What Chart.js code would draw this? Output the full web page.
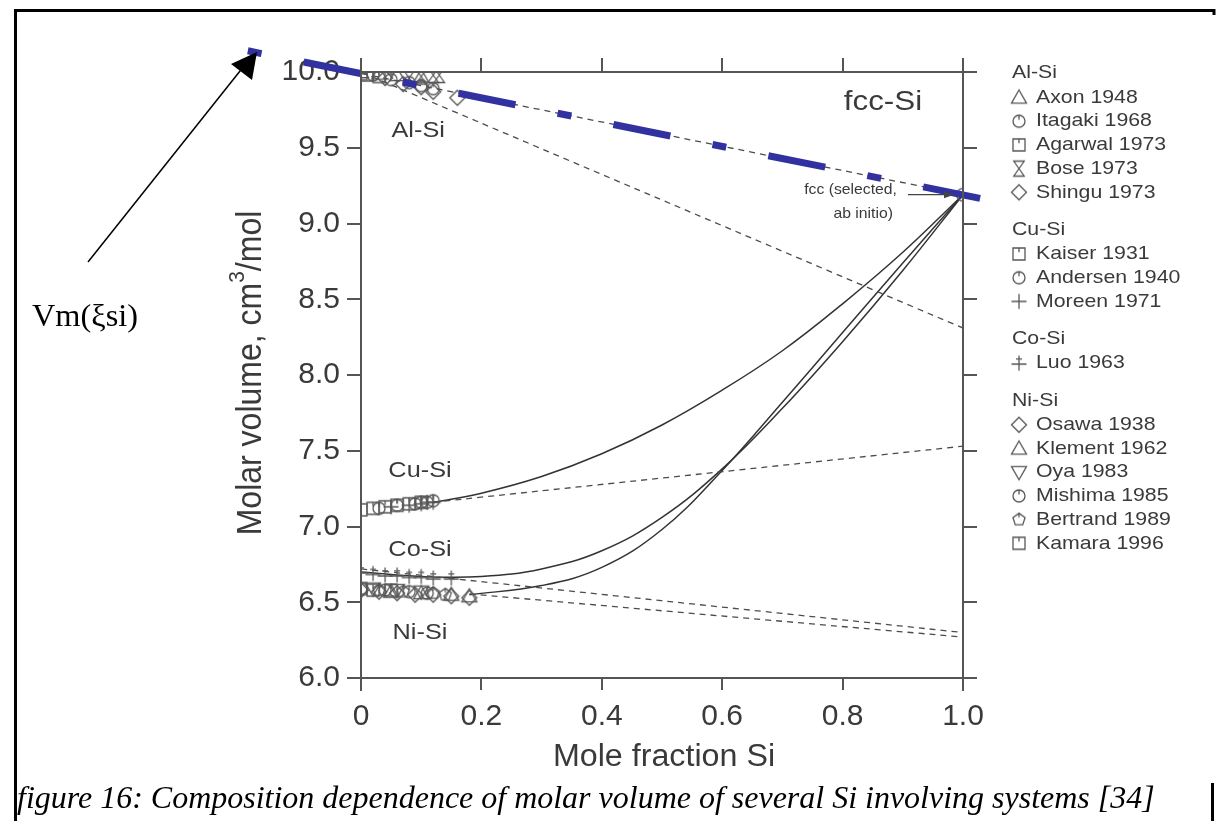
<!DOCTYPE html>
<html>
<head>
<meta charset="utf-8">
<script src="https://cdn.jsdelivr.net/npm/chart.js@4.4.1/dist/chart.umd.min.js"></script>
<style>
body{margin:0;background:#fff;}
canvas{display:block;}
</style>
</head>
<body>
<canvas id="myChart" width="1232" height="821"></canvas>
<script>
const sans = "'Liberation Sans', Arial, Helvetica, sans-serif";
const serif = "'Liberation Serif', 'Times New Roman', serif";
const ink = "#3a3a3a";
const axisInk = "#555555";
const markInk = "#575757";
const blue = "#31319f";

// tick values
const xTickValues = [0, 0.2, 0.4, 0.6, 0.8, 1.0];
const yTickValues = [6.0, 6.5, 7.0, 7.5, 8.0, 8.5, 9.0, 9.5, 10.0];

// Al-Si measurements
const axonX = [0.0, 0.03, 0.06, 0.1];
const axonY = [10.0, 9.99, 9.98, 9.97];
const itagakiX = [0.02, 0.05, 0.08, 0.1, 0.12];
const itagakiY = [9.98, 9.95, 9.93, 9.91, 9.89];
const agarwalX = [0.0, 0.01, 0.03];
const agarwalY = [9.99, 9.98, 9.97];
const boseX = [0.08, 0.1, 0.12, 0.13];
const boseY = [9.96, 9.97, 9.98, 9.98];
const shinguX = [0.04, 0.07, 0.1, 0.12, 0.16];
const shinguY = [9.96, 9.92, 9.9, 9.87, 9.83];

// Cu-Si measurements
const kaiserX = [0.0, 0.02, 0.04, 0.06, 0.08, 0.1];
const kaiserY = [7.11, 7.12, 7.13, 7.14, 7.15, 7.16];
const andersenX = [0.03, 0.06, 0.09, 0.1, 0.11, 0.12];
const andersenY = [7.12, 7.14, 7.15, 7.16, 7.16, 7.17];
const moreenX = [0.05, 0.08, 0.1, 0.11, 0.12];
const moreenY = [7.13, 7.14, 7.15, 7.16, 7.16];

// Co-Si measurements
const luoX = [0.0, 0.02, 0.04, 0.06, 0.08, 0.1, 0.12, 0.15];
const luoY = [6.70, 6.69, 6.68, 6.68, 6.67, 6.67, 6.66, 6.66];

// Ni-Si measurements
const osawaX = [0.0, 0.03, 0.06, 0.09, 0.12, 0.15, 0.18];
const osawaY = [6.58, 6.57, 6.56, 6.55, 6.55, 6.54, 6.53];
const klementX = [0.05, 0.1, 0.15, 0.18];
const klementY = [6.57, 6.56, 6.55, 6.54];
const oyaX = [0.02, 0.06, 0.1];
const oyaY = [6.59, 6.58, 6.57];
const mishimaX = [0.0, 0.04, 0.08, 0.11];
const mishimaY = [6.59, 6.58, 6.57, 6.56];
const bertrandX = [0.03, 0.07, 0.12, 0.14];
const bertrandY = [6.58, 6.57, 6.56, 6.55];
const kamaraX = [0.0, 0.02, 0.05];
const kamaraY = [6.59, 6.58, 6.58];

// fcc Si (selected, ab initio)
const fccX = [1.0];
const fccY = [9.19];

// model lines
const alIdealX = [0, 1.0];
const alIdealY = [9.99, 9.19];
const alSteepX = [0, 1.0];
const alSteepY = [10.0, 8.31];
const cuDashX = [0.12, 1.0];
const cuDashY = [7.16, 7.53];
const cuCurveX = [0.12, 0.2, 0.3, 0.4, 0.5, 0.6, 0.7, 0.8, 0.9, 1.0];
const cuCurveY = [7.16, 7.22, 7.33, 7.48, 7.67, 7.90, 8.16, 8.47, 8.81, 9.19];
const coDashX = [0, 1.0];
const coDashY = [6.72, 6.30];
const coCurveX = [0, 0.1, 0.2, 0.3, 0.4, 0.5, 0.6, 0.7, 0.8, 0.9, 1.0];
const coCurveY = [6.70, 6.67, 6.67, 6.72, 6.84, 7.06, 7.38, 7.78, 8.22, 8.69, 9.19];
const niDashX = [0.18, 1.0];
const niDashY = [6.555, 6.27];
const niCurveX = [0.18, 0.3, 0.4, 0.5, 0.6, 0.7, 0.8, 0.9, 1.0];
const niCurveY = [6.55, 6.61, 6.73, 6.98, 7.37, 7.82, 8.28, 8.74, 9.19];

// overlaid Vm(xSi) line
const vegardX = [-0.188, 1.098];
const vegardY = [10.14, 9.11];

function pts(xs, ys)
{
    return xs.map(function (v, i) { return {x: v, y: ys[i]}; });
}

function makeMarker(kind)
{
    let s = 15;
    let c = document.createElement("canvas");
    c.width = s + 5;
    c.height = s + 5;
    let g = c.getContext("2d");
    let m = c.width / 2, r = s / 2;
    g.strokeStyle = markInk;
    g.lineWidth = 1.3;
    g.beginPath();
    switch (kind)
    {
        case "tri":
            g.moveTo(m, m - r); g.lineTo(m + r, m + r * 0.75); g.lineTo(m - r, m + r * 0.75); g.closePath();
            break;
        case "triDown":
            g.moveTo(m, m + r); g.lineTo(m + r, m - r * 0.75); g.lineTo(m - r, m - r * 0.75); g.closePath();
            break;
        case "circTick":
            g.arc(m, m, r * 0.8, 0, Math.PI * 2);
            g.moveTo(m, m - r * 0.8); g.lineTo(m, m - r * 0.2);
            break;
        case "circle":
            g.arc(m, m, r * 0.85, 0, Math.PI * 2);
            break;
        case "sqTick":
            g.rect(m - r * 0.8, m - r * 0.8, r * 1.6, r * 1.6);
            g.moveTo(m, m - r * 0.8); g.lineTo(m, m - r * 0.25);
            break;
        case "hourglass":
            g.moveTo(m - r * 0.7, m - r); g.lineTo(m + r * 0.7, m - r);
            g.lineTo(m - r * 0.7, m + r); g.lineTo(m + r * 0.7, m + r); g.closePath();
            break;
        case "diamond":
            g.moveTo(m, m - r); g.lineTo(m + r, m); g.lineTo(m, m + r); g.lineTo(m - r, m); g.closePath();
            break;
        case "plus":
            g.moveTo(m - r, m); g.lineTo(m + r, m);
            g.moveTo(m, m - r); g.lineTo(m, m + r);
            break;
        case "plusBar":
            g.moveTo(m - r, m + 1); g.lineTo(m + r, m + 1);
            g.moveTo(m, m - r); g.lineTo(m, m + r);
            g.moveTo(m - r * 0.4, m - r * 0.55); g.lineTo(m + r * 0.4, m - r * 0.55);
            break;
        case "pentagon":
            for (let k = 0; k < 5; k++)
            {
                let a = -Math.PI / 2 + k * 2 * Math.PI / 5;
                let px = m + Math.cos(a) * r * 0.85, py = m + Math.sin(a) * r * 0.85;
                if (k == 0) g.moveTo(px, py); else g.lineTo(px, py);
            }
            g.closePath();
            g.moveTo(m, m - r * 0.85); g.lineTo(m, m - r * 0.3);
            break;
    }
    g.stroke();
    return c;
}

let markers = {};
["tri", "triDown", "circTick", "circle", "sqTick", "hourglass", "diamond", "plus", "plusBar", "pentagon"].forEach(function (k)
{
    markers[k] = makeMarker(k);
});

const legendGroups = [
    {title: "Al-Si", items: [["tri", "Axon 1948"], ["circTick", "Itagaki 1968"], ["sqTick", "Agarwal 1973"], ["hourglass", "Bose 1973"], ["diamond", "Shingu 1973"]]},
    {title: "Cu-Si", items: [["sqTick", "Kaiser 1931"], ["circTick", "Andersen 1940"], ["plus", "Moreen 1971"]]},
    {title: "Co-Si", items: [["plusBar", "Luo 1963"]]},
    {title: "Ni-Si", items: [["diamond", "Osawa 1938"], ["tri", "Klement 1962"], ["triDown", "Oya 1983"], ["circTick", "Mishima 1985"], ["pentagon", "Bertrand 1989"], ["sqTick", "Kamara 1996"]]}
];

function markerSet(label, xs, ys, shape)
{
    return {label: label, data: pts(xs, ys), showLine: false, pointStyle: markers[shape],
        pointRadius: 7, borderColor: markInk, backgroundColor: "transparent", order: 1};
}

function lineSet(label, xs, ys, dashed)
{
    return {label: label, data: pts(xs, ys), showLine: true, pointRadius: 0,
        borderColor: dashed ? "#4c4c4c" : "#333333", borderWidth: dashed ? 1.3 : 1.5,
        borderDash: dashed ? [6, 5] : [], tension: 0.4, fill: false, order: 2};
}

let datasets = [
    {label: "Vm", data: pts(vegardX, vegardY), showLine: true, pointRadius: 0, borderColor: blue,
        borderWidth: 7, borderDash: [14, 43, 58, 43], borderCapStyle: "butt", clip: false, order: 0},
    lineSet("Al-Si ideal", alIdealX, alIdealY, true),
    lineSet("Al-Si", alSteepX, alSteepY, true),
    lineSet("Cu-Si dash", cuDashX, cuDashY, true),
    lineSet("Cu-Si", cuCurveX, cuCurveY, false),
    lineSet("Co-Si dash", coDashX, coDashY, true),
    lineSet("Co-Si", coCurveX, coCurveY, false),
    lineSet("Ni-Si dash", niDashX, niDashY, true),
    lineSet("Ni-Si", niCurveX, niCurveY, false),
    markerSet("Axon 1948", axonX, axonY, "tri"),
    markerSet("Itagaki 1968", itagakiX, itagakiY, "circTick"),
    markerSet("Agarwal 1973", agarwalX, agarwalY, "sqTick"),
    markerSet("Bose 1973", boseX, boseY, "hourglass"),
    markerSet("Shingu 1973", shinguX, shinguY, "diamond"),
    markerSet("Kaiser 1931", kaiserX, kaiserY, "sqTick"),
    markerSet("Andersen 1940", andersenX, andersenY, "circTick"),
    markerSet("Moreen 1971", moreenX, moreenY, "plus"),
    markerSet("Luo 1963", luoX, luoY, "plusBar"),
    markerSet("Osawa 1938", osawaX, osawaY, "diamond"),
    markerSet("Klement 1962", klementX, klementY, "tri"),
    markerSet("Oya 1983", oyaX, oyaY, "triDown"),
    markerSet("Mishima 1985", mishimaX, mishimaY, "circTick"),
    markerSet("Bertrand 1989", bertrandX, bertrandY, "pentagon"),
    markerSet("Kamara 1996", kamaraX, kamaraY, "sqTick"),
    markerSet("fcc", fccX, fccY, "circle")
];

function txt(ctx, s, x, y, size, align, sx, fam, style)
{
    ctx.save();
    ctx.font = (style || "") + " " + size + "px " + (fam || sans);
    ctx.textAlign = align || "left";
    ctx.textBaseline = "middle";
    ctx.translate(x, y);
    ctx.scale(sx || 1, 1);
    ctx.fillText(s, 0, 0);
    ctx.restore();
}

const extras = {
    id: "extras",
    afterDraw(chart)
    {
        let ctx = chart.ctx;
        let a = chart.chartArea;
        let sx = chart.scales.x, sy = chart.scales.y;
        ctx.save();

        // plot frame, lines run past the corners
        ctx.strokeStyle = axisInk;
        ctx.lineWidth = 2;
        ctx.beginPath();
        ctx.moveTo(a.left - 13, a.bottom); ctx.lineTo(a.right + 14, a.bottom);
        ctx.moveTo(a.left, a.top); ctx.lineTo(a.right + 14, a.top);
        ctx.moveTo(a.left, a.top - 14); ctx.lineTo(a.left, a.bottom + 13);
        ctx.moveTo(a.right, a.top - 14); ctx.lineTo(a.right, a.bottom + 13);
        ctx.stroke();

        ctx.fillStyle = ink;
        // axis titles
        txt(ctx, "Mole fraction Si", (a.left + a.right) / 2 + 2, 757, 31, "center", 1.04);
        ctx.save();
        ctx.translate(251, 373);
        ctx.rotate(-Math.PI / 2);
        ctx.scale(1, 1.08);
        ctx.font = "32px " + sans;
        ctx.textBaseline = "middle";
        let p1 = "Molar volume, cm", p2 = "3", p3 = "/mol";
        let w1 = ctx.measureText(p1).width, w3 = ctx.measureText(p3).width;
        ctx.font = "21px " + sans;
        let w2 = ctx.measureText(p2).width;
        let x0 = -(w1 + w2 + w3) / 2;
        ctx.font = "32px " + sans;
        ctx.fillText(p1, x0, 0);
        ctx.fillText(p3, x0 + w1 + w2, 0);
        ctx.font = "21px " + sans;
        ctx.fillText(p2, x0 + w1, -12);
        ctx.restore();

        // in-plot labels
        txt(ctx, "fcc-Si", sx.getPixelForValue(0.867), sy.getPixelForValue(9.8), 28, "center", 1.12);
        txt(ctx, "Al-Si", sx.getPixelForValue(0.095), sy.getPixelForValue(9.61), 22, "center", 1.15);
        txt(ctx, "Cu-Si", sx.getPixelForValue(0.098), sy.getPixelForValue(7.37), 22, "center", 1.15);
        txt(ctx, "Co-Si", sx.getPixelForValue(0.098), sy.getPixelForValue(6.845), 22, "center", 1.15);
        txt(ctx, "Ni-Si", sx.getPixelForValue(0.098), sy.getPixelForValue(6.3), 22, "center", 1.15);
        txt(ctx, "fcc (selected,", 897, 190, 15, "right", 1.05);
        txt(ctx, "ab initio)", 893, 214, 15, "right", 1.05);

        // arrow to the fcc point
        let fx = sx.getPixelForValue(fccX[0]) - 9, fy = sy.getPixelForValue(fccY[0]);
        ctx.strokeStyle = "#444";
        ctx.lineWidth = 1.2;
        ctx.beginPath();
        ctx.moveTo(908, fy); ctx.lineTo(fx - 6, fy);
        ctx.stroke();
        ctx.fillStyle = "#444";
        ctx.beginPath();
        ctx.moveTo(fx, fy); ctx.lineTo(fx - 10, fy - 3.5); ctx.lineTo(fx - 10, fy + 3.5); ctx.closePath();
        ctx.fill();

        // legend
        ctx.fillStyle = ink;
        let ly = 73;
        legendGroups.forEach(function (grp)
        {
            txt(ctx, grp.title, 1012, ly, 19, "left", 1.12);
            ly += 24.5;
            grp.items.forEach(function (it)
            {
                let m = markers[it[0]];
                ctx.drawImage(m, 1019 - m.width / 2, ly - m.height / 2);
                txt(ctx, it[1], 1036, ly, 19, "left", 1.12);
                ly += 23.7;
            });
            ly += 13.5;
        });

        // page frame
        ctx.strokeStyle = "#000";
        ctx.lineWidth = 3;
        ctx.beginPath();
        ctx.moveTo(15.5, 821); ctx.lineTo(15.5, 10.5); ctx.lineTo(1214, 10.5); ctx.lineTo(1214, 15);
        ctx.moveTo(1212.5, 783); ctx.lineTo(1212.5, 821);
        ctx.stroke();

        // Vm label and arrow
        ctx.fillStyle = "#000";
        ctx.font = "27px " + serif;
        let vw = ctx.measureText("Vm(\u03BEsi)").width;
        ctx.font = (27 * 106 / vw).toFixed(2) + "px " + serif;
        ctx.textBaseline = "middle";
        ctx.textAlign = "left";
        ctx.fillText("Vm(\u03BEsi)", 32, 318);
        ctx.lineWidth = 1.5;
        ctx.beginPath();
        ctx.moveTo(88, 262); ctx.lineTo(244, 66);
        ctx.stroke();
        ctx.beginPath();
        ctx.moveTo(257, 52); ctx.lineTo(231, 64); ctx.lineTo(252, 80); ctx.closePath();
        ctx.fill();

        // caption
        ctx.font = "italic 28px " + serif;
        let cw = ctx.measureText("figure 16: Composition dependence of molar volume of several Si involving systems [34]").width;
        let cs = 28 * 1138 / cw;
        ctx.font = "italic " + cs.toFixed(2) + "px " + serif;
        ctx.textBaseline = "alphabetic";
        ctx.fillText("figure 16: Composition dependence of molar volume of several Si involving systems [34]", 17, 808);

        ctx.restore();
    }
};

function tickGrid(len)
{
    return {drawOnChartArea: false, drawTicks: true, tickLength: len, color: axisInk, lineWidth: 2};
}

let chart = new Chart(document.getElementById("myChart"), {
    type: "scatter",
    data: {datasets: datasets},
    options: {
        responsive: false,
        devicePixelRatio: 1,
        animation: false,
        layout: {padding: 0},
        plugins: {legend: {display: false}, tooltip: {enabled: false}},
        scales: {
            x: {
                type: "linear", position: "bottom", min: 0, max: 1,
                afterBuildTicks: function (s) { s.ticks = xTickValues.map(function (v) { return {value: v}; }); },
                afterFit: function (s) { s.height = 143; },
                grid: tickGrid(12),
                border: {display: false},
                ticks: {
                    padding: 9, color: ink, font: {family: sans, size: 30},
                    callback: function (v) { return v === 0 ? "0" : Number(v).toFixed(1); }
                }
            },
            x2: {
                type: "linear", position: "top", min: 0, max: 1,
                afterBuildTicks: function (s) { s.ticks = xTickValues.map(function (v) { return {value: v}; }); },
                afterFit: function (s) { s.height = 72; },
                grid: tickGrid(14),
                border: {display: false},
                ticks: {display: false}
            },
            y: {
                type: "linear", position: "left", min: 6, max: 10,
                afterBuildTicks: function (s) { s.ticks = yTickValues.map(function (v) { return {value: v}; }); },
                afterFit: function (s) { s.width = 361; },
                grid: tickGrid(14),
                border: {display: false},
                ticks: {
                    padding: 7, color: ink, font: {family: sans, size: 30},
                    callback: function (v) { return Number(v).toFixed(1); }
                }
            },
            y2: {
                type: "linear", position: "right", min: 6, max: 10,
                afterBuildTicks: function (s) { s.ticks = yTickValues.map(function (v) { return {value: v}; }); },
                afterFit: function (s) { s.width = 269; },
                grid: tickGrid(14),
                border: {display: false},
                ticks: {display: false}
            }
        }
    },
    plugins: [extras]
});
</script>
</body>
</html>
